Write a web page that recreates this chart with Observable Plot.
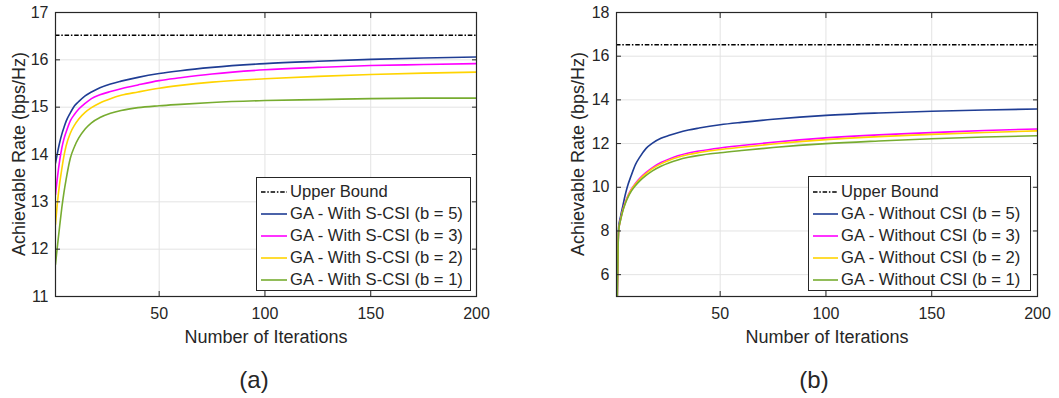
<!DOCTYPE html>
<html>
<head>
<meta charset="utf-8">
<script src="https://cdn.jsdelivr.net/npm/d3@7"></script>
<script src="https://cdn.jsdelivr.net/npm/@observablehq/plot@0.6"></script>
<style>
  html, body { margin: 0; padding: 0; background: #fff; }
  #wrap { position: relative; width: 1059px; height: 398px; overflow: hidden; font-family: "Liberation Sans", Arial, Helvetica, sans-serif; color: #262626; }
  .panel { position: absolute; top: 0; }
  .lbl { position: absolute; white-space: nowrap; transform: translate(-50%, -50%); }
  .ylbl { position: absolute; white-space: nowrap; transform: translate(-50%, -50%) rotate(-90deg); font-size: 18px; }
  .legend { position: absolute; background: #fff; border: 1px solid #262626; box-sizing: border-box; }
  .legend .row { position: absolute; left: 0; height: 22px; display: flex; align-items: center; font-size: 16.6px; white-space: nowrap; }
  .legend svg { display: block; }
</style>
</head>
<body>
<div id="wrap"></div>
<script>
// ---------- data ----------
const boundValue = 16.52;

// (a) GA - With S-CSI
const iterA = [1, 2, 3, 4, 5, 6, 8, 10, 12, 15, 18, 22, 27, 32, 40, 50, 60, 75, 100, 125, 150, 175, 200];
const sCsiB5 = [13.82, 14.05, 14.26, 14.43, 14.57, 14.7, 14.88, 15.03, 15.12, 15.24, 15.32, 15.41, 15.49, 15.55, 15.63, 15.71, 15.77, 15.84, 15.92, 15.97, 16.01, 16.04, 16.06];
const sCsiB3 = [13.15, 13.55, 13.88, 14.14, 14.33, 14.47, 14.71, 14.85, 14.96, 15.08, 15.18, 15.26, 15.33, 15.39, 15.47, 15.56, 15.62, 15.7, 15.79, 15.84, 15.88, 15.9, 15.92];
const sCsiB2 = [12.52, 13.02, 13.4, 13.7, 13.97, 14.18, 14.45, 14.62, 14.75, 14.89, 14.99, 15.09, 15.18, 15.25, 15.32, 15.4, 15.46, 15.53, 15.6, 15.65, 15.69, 15.72, 15.74];
const sCsiB1 = [11.68, 12.1, 12.5, 12.88, 13.2, 13.47, 13.92, 14.17, 14.35, 14.54, 14.67, 14.78, 14.87, 14.93, 14.99, 15.03, 15.06, 15.1, 15.14, 15.16, 15.18, 15.19, 15.19];

// (b) GA - Without CSI
const iterB = [1, 2, 3, 4, 5, 6, 8, 10, 12, 15, 18, 22, 26, 30, 35, 40, 50, 60, 75, 100, 125, 150, 175, 200];
const noCsiB5 = [2.0, 8.15, 8.7, 9.15, 9.6, 9.98, 10.55, 11.05, 11.38, 11.78, 12.02, 12.24, 12.38, 12.5, 12.62, 12.71, 12.86, 12.97, 13.11, 13.29, 13.4, 13.48, 13.54, 13.58];
const noCsiB3 = [2.0, 8.0, 8.56, 8.97, 9.27, 9.53, 9.91, 10.19, 10.41, 10.68, 10.9, 11.13, 11.3, 11.44, 11.57, 11.66, 11.8, 11.91, 12.06, 12.26, 12.4, 12.5, 12.6, 12.67];
const noCsiB2 = [2.0, 8.0, 8.55, 8.95, 9.25, 9.5, 9.88, 10.15, 10.37, 10.63, 10.85, 11.07, 11.24, 11.37, 11.5, 11.59, 11.73, 11.83, 11.98, 12.18, 12.32, 12.42, 12.51, 12.58];
const noCsiB1 = [2.0, 8.0, 8.53, 8.92, 9.21, 9.45, 9.82, 10.08, 10.29, 10.54, 10.75, 10.96, 11.12, 11.25, 11.37, 11.46, 11.58, 11.68, 11.82, 12.0, 12.12, 12.22, 12.3, 12.36];

const bValues = [5, 3, 2, 1];
const seriesColors = ["#1f3d94", "#ff00ff", "#ffd400", "#77ac30"];
const labelsA = ["Upper Bound", "GA - With S-CSI (b = 5)", "GA - With S-CSI (b = 3)", "GA - With S-CSI (b = 2)", "GA - With S-CSI (b = 1)"];
const labelsB = ["Upper Bound", "GA - Without CSI (b = 5)", "GA - Without CSI (b = 3)", "GA - Without CSI (b = 2)", "GA - Without CSI (b = 1)"];
const xTicks = [50, 100, 150, 200];
const yTicksA = [11, 12, 13, 14, 15, 16, 17];
const yTicksB = [6, 8, 10, 12, 14, 16, 18];
const xTitle = "Number of Iterations";
const yTitle = "Achievable Rate (bps/Hz)";
const captions = ["(a)", "(b)"];

// ---------- helpers ----------
const ink = "#262626";
const dashDot = "4.5,1.8,1.5,1.8";

function toRows(iters, seriesList) {
  const rows = [];
  seriesList.forEach((vals, i) => {
    vals.forEach((v, j) => rows.push({iter: iters[j], rate: v, b: bValues[i]}));
  });
  return rows;
}

function panel({rows, yDomain, yTicks, width, marginLeft, marginRight}) {
  return Plot.plot({
    width,
    height: 350,
    marginLeft, marginRight,
    marginTop: 12, marginBottom: 54,
    style: {fontFamily: '"Liberation Sans", Arial, Helvetica, sans-serif', fontSize: "16px", color: ink, background: "transparent"},
    x: {domain: [1, 200]},
    y: {domain: yDomain},
    color: {domain: bValues, range: seriesColors},
    marks: [
      Plot.gridX(xTicks, {stroke: "#e3e3e3", strokeOpacity: 1}),
      Plot.gridY(yTicks, {stroke: "#e3e3e3", strokeOpacity: 1}),
      Plot.ruleY([boundValue], {stroke: "#000", strokeWidth: 1.5, strokeDasharray: dashDot}),
      Plot.line(rows, {x: "iter", y: "rate", z: "b", stroke: "b", strokeWidth: 1.6, curve: "monotone-x", clip: true}),
      Plot.axisX(xTicks, {tickSize: 0, tickPadding: 11, fontSize: 16, fill: ink, label: null}),
      Plot.axisX(xTicks, {anchor: "bottom", tickSize: -5, text: null, stroke: ink, label: null}),
      Plot.axisX(xTicks, {anchor: "top", tickSize: -5, text: null, stroke: ink, label: null}),
      Plot.axisY(yTicks, {tickSize: 0, tickPadding: 7, fontSize: 16, fill: ink, label: null}),
      Plot.axisY(yTicks, {anchor: "left", tickSize: -5, text: null, stroke: ink, label: null}),
      Plot.axisY(yTicks, {anchor: "right", tickSize: -5, text: null, stroke: ink, label: null}),
      Plot.frame({stroke: ink, strokeWidth: 1.2})
    ]
  });
}

function legend(labels, box) {
  const d = document.createElement("div");
  d.className = "legend";
  Object.assign(d.style, {left: box.left + "px", top: box.top + "px", width: box.width + "px", height: box.height + "px"});
  labels.forEach((lab, i) => {
    const r = document.createElement("div");
    r.className = "row";
    r.style.top = (box.firstRow + i * 22 - 11) + "px";
    const ns = "http://www.w3.org/2000/svg";
    const s = document.createElementNS(ns, "svg");
    s.setAttribute("width", box.sample + 3);
    s.setAttribute("height", 6);
    s.style.marginLeft = "4px";
    const ln = document.createElementNS(ns, "line");
    ln.setAttribute("x1", 0); ln.setAttribute("x2", box.sample);
    ln.setAttribute("y1", 3); ln.setAttribute("y2", 3);
    ln.setAttribute("stroke", i === 0 ? "#000" : seriesColors[i - 1]);
    ln.setAttribute("stroke-width", i === 0 ? 1.5 : 1.6);
    if (i === 0) ln.setAttribute("stroke-dasharray", dashDot);
    s.appendChild(ln);
    r.appendChild(s);
    const t = document.createElement("span");
    t.textContent = lab;
    r.appendChild(t);
    d.appendChild(r);
  });
  return d;
}

function addText(cls, text, x, y, size) {
  const e = document.createElement("div");
  e.className = cls;
  e.textContent = text;
  e.style.left = x + "px";
  e.style.top = y + "px";
  if (size) e.style.fontSize = size + "px";
  wrap.appendChild(e);
}

// ---------- build ----------
const wrap = document.getElementById("wrap");

const pa = document.createElement("div");
pa.className = "panel"; pa.style.left = "0px";
pa.appendChild(panel({rows: toRows(iterA, [sCsiB5, sCsiB3, sCsiB2, sCsiB1]), yDomain: [11, 17], yTicks: yTicksA, width: 530, marginLeft: 55, marginRight: 54}));
wrap.appendChild(pa);

const pb = document.createElement("div");
pb.className = "panel"; pb.style.left = "530px";
pb.appendChild(panel({rows: toRows(iterB, [noCsiB5, noCsiB3, noCsiB2, noCsiB1]), yDomain: [5, 18], yTicks: yTicksB, width: 529, marginLeft: 86, marginRight: 22}));
wrap.appendChild(pb);

wrap.appendChild(legend(labelsA, {left: 256, top: 177, width: 215, height: 114, firstRow: 14, sample: 26}));
wrap.appendChild(legend(labelsB, {left: 808, top: 176, width: 223, height: 115, firstRow: 15, sample: 25}));

addText("lbl", xTitle, 266, 337, 18);
addText("lbl", xTitle, 827, 337, 18);
addText("ylbl", yTitle, 19, 154);
addText("ylbl", yTitle, 578, 154);
addText("lbl", captions[0], 254, 380, 24);
addText("lbl", captions[1], 814, 380, 24);
</script>
</body>
</html>
